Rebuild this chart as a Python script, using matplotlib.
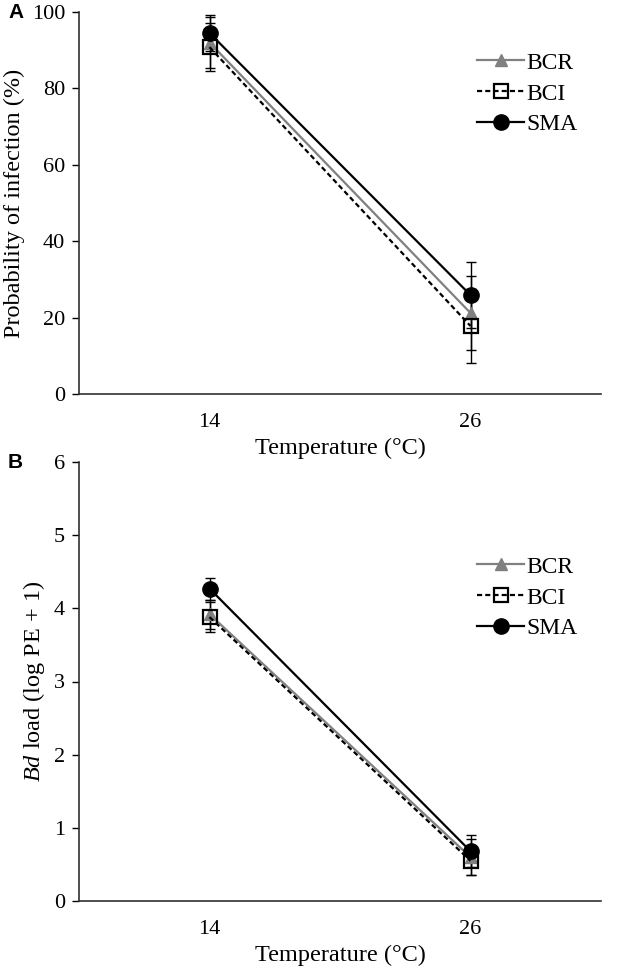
import matplotlib.pyplot as plt

plt.rcParams['font.family'] = ['Liberation Serif', 'DejaVu Serif']
plt.rcParams['mathtext.fontset'] = 'custom'
plt.rcParams['mathtext.rm'] = 'Liberation Serif'
plt.rcParams['mathtext.it'] = 'Liberation Serif:italic'

temps = ['14', '26']
series = ['BCR', 'BCI', 'SMA']

# panel A: probability of infection (%)
prob_bcr = [92.0, 21.2]
prob_bci = [90.8, 17.8]
prob_sma = [94.5, 25.9]
prob_bcr_err = [6.7, 9.7]
prob_bci_err = [6.2, 9.7]
prob_sma_err = [4.7, 8.6]

# panel B: Bd load (log PE + 1)
load_bcr = [3.92, 0.60]
load_bci = [3.88, 0.55]
load_sma = [4.27, 0.68]
load_bcr_err = [0.2, 0.25]
load_bci_err = [0.2, 0.2]
load_sma_err = [0.15, 0.22]

styles = {
    'BCR': dict(color='#808080', linestyle='-', marker='^', markersize=9,
                markerfacecolor='#808080', markeredgecolor='#808080'),
    'BCI': dict(color='black', linestyle=(0, (2.3, 1.4)), marker='s', markersize=10,
                markerfacecolor='none', markeredgecolor='black', markeredgewidth=1.6),
    'SMA': dict(color='black', linestyle='-', marker='o', markersize=11,
                markerfacecolor='black', markeredgecolor='black'),
}


def draw_panel(ax, vals, errs, ylim, yticks, ylabel):
    x = [1, 2]
    for name, v, e in zip(series, vals, errs):
        ax.errorbar(x, v, yerr=e, fmt='none', ecolor='black', elinewidth=1,
                    capsize=3.5, capthick=1, zorder=2)
        ax.plot(x, v, linewidth=1.6, label=name, zorder=3, **styles[name])
    ax.set_xlim(0.5, 2.5)
    ax.set_ylim(*ylim)
    ax.set_yticks(yticks)
    ax.set_xticks(x)
    ax.set_xticklabels(temps)
    ax.tick_params(axis='x', length=0, pad=14, labelsize=16)
    ax.tick_params(axis='y', length=5, width=1, direction='out', pad=5, labelsize=16)
    for s in ['top', 'right']:
        ax.spines[s].set_visible(False)
    for s in ['left', 'bottom']:
        ax.spines[s].set_color('#303030')
        ax.spines[s].set_linewidth(1.2)
    ax.set_xlabel('Temperature (°C)', fontsize=17.5, labelpad=4)
    ax.set_ylabel(ylabel, fontsize=17.5, labelpad=5)


fig = plt.figure(figsize=(6.18, 9.74), dpi=100)
axA = fig.add_axes([79 / 618, 1 - 394 / 974, 522 / 618, 382 / 974])
axB = fig.add_axes([79 / 618, 1 - 901 / 974, 522 / 618, 439 / 974])

draw_panel(axA, [prob_bcr, prob_bci, prob_sma],
           [prob_bcr_err, prob_bci_err, prob_sma_err],
           (0, 100), range(0, 101, 20), 'Probability of infection (%)')
draw_panel(axB, [load_bcr, load_bci, load_sma],
           [load_bcr_err, load_bci_err, load_sma_err],
           (0, 6), range(0, 7), r'$Bd$ load (log PE + 1)')

for ax, top in [(axA, 52), (axB, 556)]:
    ax.legend(loc='upper left', bbox_to_anchor=(477 / 618, 1 - top / 974),
              bbox_transform=fig.transFigure, frameon=False, fontsize=17,
              handlelength=2.0, handletextpad=0.1, labelspacing=0.4,
              borderpad=0, borderaxespad=0)

fig.text(8 / 618, 1 - 12 / 974, 'A', fontsize=15, fontweight='bold',
         family='Liberation Sans', va='center', ha='left')
fig.text(8 / 618, 1 - 462 / 974, 'B', fontsize=15, fontweight='bold',
         family='Liberation Sans', va='center', ha='left')

fig.savefig('out.png', dpi=100)
